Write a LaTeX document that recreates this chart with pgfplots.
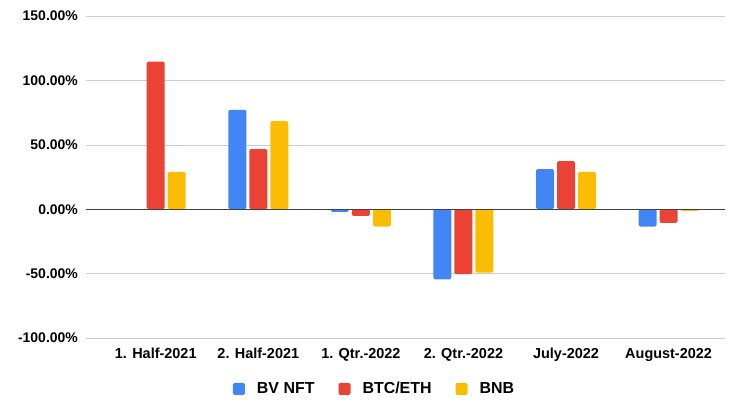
\documentclass[border=0pt]{standalone}
\usepackage{pgfplots}
\pgfplotsset{compat=1.18}
\usepackage{fontspec}
\setmainfont{Liberation Sans}
\definecolor{cblue}{HTML}{4285F4}
\definecolor{cred}{HTML}{EA4335}
\definecolor{cyellow}{HTML}{FBBC04}
\begin{document}
\begin{tikzpicture}
\begin{axis}[
  at={(0,0)}, anchor=south west,
  scale only axis, width=639bp, height=322bp,
  ymin=-100, ymax=150,
  xmin=-0.68, xmax=5.55,
  ybar=3bp, bar width=18bp,
  xtick={0,1,2,3,4,5},
  xticklabels={1. Half-2021, 2. Half-2021, 1. Qtr.-2022, 2. Qtr.-2022, July-2022, August-2022},
  ytick={-100,-50,0,50,100,150},
  yticklabels={-100.00\%,-50.00\%,0.00\%,50.00\%,100.00\%,150.00\%},
  ymajorgrids, major grid style={color=black!20, line width=0.6pt},
  axis line style={draw=none},
  major tick length=0pt,
  tick label style={font=\fontsize{14}{16}\selectfont\bfseries},
  yticklabel style={anchor=east, inner sep=0pt, xshift=-8bp},
  xticklabel style={anchor=north, inner sep=0pt, yshift=-10bp, font=\fontsize{14.5}{16}\selectfont\bfseries},
  legend columns=3,
  legend style={at={(0.45,-0.158)}, anchor=center, draw=none, fill=none,
    font=\fontsize{16}{18}\selectfont\bfseries,
    nodes={inner xsep=0pt},
    /tikz/every even column/.append style={column sep=24bp}},
  legend image code/.code={\fill[#1] (0bp,-6bp) rectangle (12bp,6bp);},
]
\addplot[draw=none, fill=cblue, rounded corners=1.5bp] coordinates {(1,77.2) (2,-2.1) (3,-54.4) (4,31.1) (5,-13.5)};
\addplot[draw=none, fill=cred, rounded corners=1.5bp] coordinates {(0,114.5) (1,46.7) (2,-5.2) (3,-50.5) (4,37.3) (5,-10.6)};
\addplot[draw=none, fill=cyellow, rounded corners=1.5bp] coordinates {(0,29) (1,68.4) (2,-13.5) (3,-49.3) (4,29) (5,-1.3)};
\legend{\hspace*{12bp}BV NFT, \hspace*{12bp}BTC/ETH, \hspace*{12bp}BNB}
\draw[black!75, line width=0.9pt] ({rel axis cs:0,0}|-{axis cs:0,0}) -- ({rel axis cs:1,0}|-{axis cs:0,0});
\end{axis}
\path[use as bounding box] (-86bp,-63bp) rectangle (652bp,338bp);
\end{tikzpicture}
\end{document}
